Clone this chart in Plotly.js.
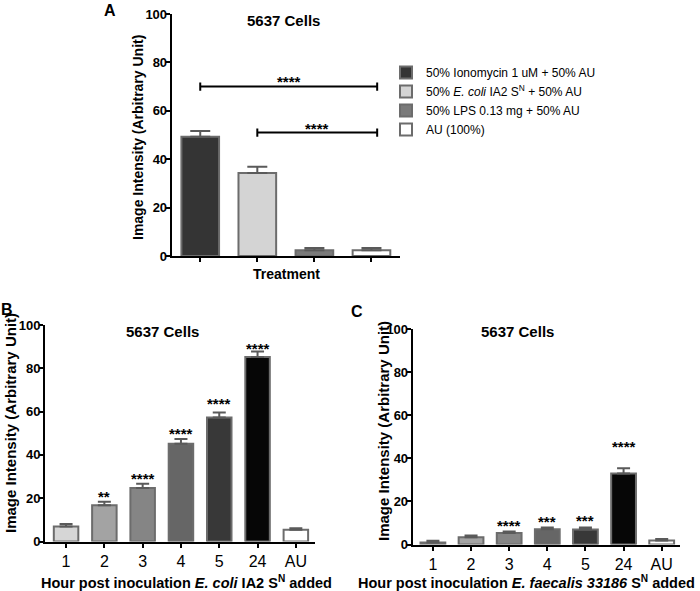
<!DOCTYPE html>
<html>
<head>
<meta charset="utf-8">
<script src="https://cdn.plot.ly/plotly-3.0.1.min.js"></script>
<style>html,body{margin:0;padding:0;background:#fff;}#chart{width:700px;height:591px;}</style>
</head>
<body>
<div id="chart"></div>
<script>
// ---------- Data ----------
// Panel A
const treatmentsA = [
  '50% Ionomycin 1 uM + 50% AU',
  '50% <i>E. coli</i> IA2 S<sup>N</sup> + 50% AU',
  '50% LPS 0.13 mg + 50% AU',
  'AU (100%)'
];
const valuesA = [49.3, 34.3, 2.4, 2.4];
const errorsA = [2.4, 2.6, 0.9, 0.9];
const sigFromA = [0, 1];
const sigToA = [3.1, 3.1];
const sigLevelA = [70, 51];
const sigTextA = ['****', '****'];
const sigTextLevelA = [73.8, 54.5];

// Panel B
const hoursB = ['1', '2', '3', '4', '5', '24', 'AU'];
const valuesB = [6.9, 16.8, 24.7, 45.1, 57.3, 85.2, 5.4];
const errorsB = [1.2, 1.6, 2.0, 2.3, 2.3, 2.6, 0.7];
const starsB = ['', '**', '****', '****', '****', '****', ''];
const starLevelB = [null, 22.6, 31.1, 51.5, 65.4, 91.1, null];

// Panel C
const hoursC = ['1', '2', '3', '4', '5', '24', 'AU'];
const valuesC = [0.9, 3.4, 5.3, 7.1, 7.0, 33.0, 1.8];
const errorsC = [0.8, 0.8, 0.7, 0.8, 0.9, 2.4, 0.8];
const starsC = ['', '', '****', '***', '***', '****', ''];
const starLevelC = [null, null, 10.5, 12.5, 12.8, 47.4, null];

const yTicks = [0, 20, 40, 60, 80, 100];

// ---------- Styles ----------
const FONT = 'Liberation Sans, Arial, Helvetica, sans-serif';
const fillA = ['#343434', '#d4d4d4', '#7a7a7a', '#ffffff'];
const fillBC = ['#d6d6d6', '#a3a3a3', '#858585', '#666666', '#383838', '#060606', '#ffffff'];
const OUTLINE = '#6c6c6c';
const ERRCOL = '#5a5a5a';

const W = 700, H = 591;
const px = x => x / W;
const py = y => 1 - y / H;

const traces = [];
// Panel A: one trace per treatment (legend entries)
treatmentsA.forEach((t, i) => {
  traces.push({
    type: 'bar', xaxis: 'x', yaxis: 'y',
    x: [t], y: [valuesA[i]], name: t, width: 0.66,
    marker: {color: fillA[i], line: {color: OUTLINE, width: 2}},
    error_y: {type: 'data', symmetric: false, array: [errorsA[i]], arrayminus: [0],
              color: ERRCOL, thickness: 2, width: 10},
    hoverinfo: 'skip'
  });
});
// Panel B
traces.push({
  type: 'bar', xaxis: 'x2', yaxis: 'y2', x: hoursB, y: valuesB, width: 0.64,
  showlegend: false,
  marker: {color: fillBC, line: {color: OUTLINE, width: 2}},
  error_y: {type: 'data', symmetric: false, array: errorsB, arrayminus: errorsB.map(() => 0),
            color: ERRCOL, thickness: 2, width: 6.5},
  hoverinfo: 'skip'
});
// Panel C
traces.push({
  type: 'bar', xaxis: 'x3', yaxis: 'y3', x: hoursC, y: valuesC, width: 0.65,
  showlegend: false,
  marker: {color: fillBC, line: {color: OUTLINE, width: 2}},
  error_y: {type: 'data', symmetric: false, array: errorsC, arrayminus: errorsC.map(() => 0),
            color: ERRCOL, thickness: 2, width: 6.5},
  hoverinfo: 'skip'
});

const axisBase = {
  showline: true, linecolor: '#000', linewidth: 2, mirror: false,
  ticks: 'outside', ticklen: 4, tickwidth: 2, tickcolor: '#000',
  showgrid: false, zeroline: false, fixedrange: true
};
const yAxis = (domain, anchor, size) => Object.assign({}, axisBase, {
  domain: domain, anchor: anchor, range: [0, 100], tickvals: yTicks,
  tickfont: {family: FONT, size: size, color: '#000', weight: 'bold'}, ticklabelstandoff: -4
});
const xAxis = (domain, anchor, range, showLabels) => Object.assign({}, axisBase, {
  domain: domain, anchor: anchor, type: 'category', range: range,
  showticklabels: showLabels,
  tickfont: {family: FONT, size: 16, color: '#000'}
});

const annotations = [];
const txt = (text, x, y, size, opts) => annotations.push(Object.assign({
  text: text, xref: 'paper', yref: 'paper', x: px(x), y: py(y),
  xanchor: 'center', yanchor: 'middle', showarrow: false,
  font: {family: FONT, size: size, color: '#000', weight: 'bold'}
}, opts || {}));

// Panel letters and titles
txt('A', 110, 0, 16, {yanchor: 'top'});
txt('B', 7, 299, 16, {yanchor: 'top'});
txt('C', 357, 301, 16, {yanchor: 'top'});
txt('5637 Cells', 283, 20, 15);
txt('5637 Cells', 162, 332, 15);
txt('5637 Cells', 517, 332, 15);
// Axis titles
txt('Image Intensity (Arbitrary Unit)', 138, 138, 14, {textangle: -90});
txt('Image Intensity (Arbitrary Unit)', 10, 423, 15, {textangle: -90});
txt('Image Intensity (Arbitrary Unit)', 383, 431, 15, {textangle: -90});
txt('Treatment', 286, 274, 14);
txt('Hour post inoculation <i>E. coli</i> IA2 S<sup>N</sup> added', 186.5, 582, 14.5);
txt('Hour post inoculation <i>E. faecalis 33186</i> S<sup>N</sup> added', 526.5, 582, 14.5);

// Significance stars
const starAnn = (text, x, y, xr, yr) => annotations.push({
  text: text, x: x, y: y, xref: xr, yref: yr, xanchor: 'center', yanchor: 'middle',
  yshift: -4, showarrow: false, font: {family: FONT, size: 15, color: '#000', weight: 'bold'}
});
sigTextA.forEach((s, i) => starAnn(s, (sigFromA[i] + sigToA[i]) / 2, sigTextLevelA[i], 'x', 'y'));
starsB.forEach((s, i) => { if (s) starAnn(s, i, starLevelB[i], 'x2', 'y2'); });
starsC.forEach((s, i) => { if (s) starAnn(s, i, starLevelC[i], 'x3', 'y3'); });

// Significance brackets in panel A
const shapes = [];
sigLevelA.forEach((lv, i) => {
  const ln = {color: '#000', width: 2};
  shapes.push({type: 'line', xref: 'x', yref: 'y', x0: sigFromA[i], x1: sigToA[i], y0: lv, y1: lv, line: ln});
  shapes.push({type: 'line', xref: 'x', yref: 'y', x0: sigFromA[i], x1: sigFromA[i], y0: lv - 1.7, y1: lv + 1.7, line: ln});
  shapes.push({type: 'line', xref: 'x', yref: 'y', x0: sigToA[i], x1: sigToA[i], y0: lv - 1.7, y1: lv + 1.7, line: ln});
});

const layout = {
  width: W, height: H, margin: {l: 0, r: 0, t: 0, b: 0, pad: 0},
  paper_bgcolor: '#fff', plot_bgcolor: '#fff',
  barmode: 'overlay', bargap: 0,
  font: {family: FONT, color: '#000'},
  showlegend: true,
  legend: {x: px(386), y: py(58), xanchor: 'left', yanchor: 'top',
           font: {family: FONT, size: 12, color: '#000'}, bgcolor: 'rgba(0,0,0,0)',
           tracegroupgap: 0},
  xaxis: xAxis([px(171.7), px(400)], 'y', [-0.5, 3.5], false),
  yaxis: yAxis([py(256), py(14)], 'x', 13),
  xaxis2: xAxis([px(45), px(315)], 'y2', [-0.55, 6.5], true),
  yaxis2: yAxis([py(541.5), py(325)], 'x2', 13),
  xaxis3: xAxis([px(412.7), px(680)], 'y3', [-0.53, 6.48], true),
  yaxis3: yAxis([py(544.5), py(329)], 'x3', 13),
  annotations: annotations,
  shapes: shapes
};

Plotly.newPlot('chart', traces, layout, {displayModeBar: false, staticPlot: true});
</script>
</body>
</html>
